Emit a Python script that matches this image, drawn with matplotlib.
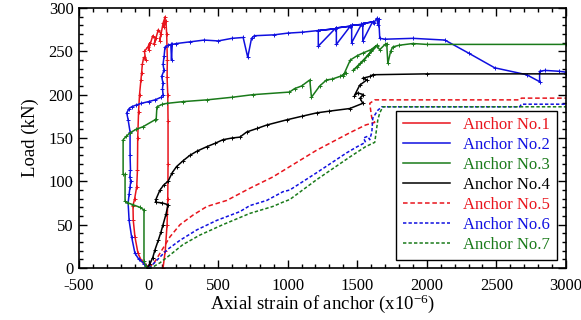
import numpy as np
import matplotlib
matplotlib.use('Agg')
import matplotlib.pyplot as plt
from matplotlib.ticker import MultipleLocator

plt.rcParams['font.family'] = ['Liberation Serif', 'DejaVu Serif']
plt.rcParams['mathtext.default'] = 'regular'
plt.rcParams['axes.unicode_minus'] = False

# Anchor No.1 (red, solid)
a1_x = [0, -20, -50, -76, -98, -110, -112, -100, -85, -80, -78, -72, -65, -55, -50,
        -45, -35, -20, -30, -5, 10, 0, 30, 50, 40, 70, 90, 80, 105, 120, 110, 125,
        130, 135, 133, 138, 140, 140, 138, 133, 120, 104]
a1_y = [0, 3, 8, 17, 36, 55, 72, 80, 94, 113, 150, 180, 200, 217, 225,
        235, 243, 240, 250, 255, 260, 252, 268, 265, 258, 275, 270, 262, 283, 290, 278, 285,
        270, 240, 220, 200, 170, 120, 80, 50, 20, 0]

# Anchor No.2 (blue, solid)
a2_x = [0, -30, -70, -98, -122, -140, -147, -140, -133, -128, -135, -130, -133, -133,
        -147, -157, -140, -122, -90, -52, 0, 46, 90, 104, 100, 104, 94, 111, 104, 112,
        118, 140, 160, 165, 170, 200, 300, 400, 500, 600, 680, 713, 740, 760, 900, 1000,
        1100, 1220, 1340, 1220, 1220, 1340, 1350, 1450, 1350, 1350, 1450, 1460, 1530,
        1460, 1460, 1530, 1540, 1610, 1540, 1540, 1610, 1620, 1640, 1650, 1655, 1662,
        1700, 1900, 2130, 2300, 2488, 2718, 2811, 2811, 2850, 2950, 3000]
a2_y = [0, 5, 10, 17, 36, 55, 75, 85, 94, 100, 105, 113, 130, 157,
        171, 179, 184, 186, 188, 190, 192, 194, 197, 200, 207, 213, 221, 228, 235, 245,
        255, 257, 258, 240, 258, 259, 261, 263, 262, 265, 266, 243, 265, 268, 269, 271,
        272, 274, 276, 256, 274, 276, 277, 279, 258, 277, 279, 280, 281,
        260, 280, 281, 282, 284, 262, 282, 284, 283, 288, 280, 287, 265,
        264, 265, 263, 248, 231, 223, 215, 227, 228, 227, 226]

# Anchor No.3 (green, solid)
a3_x = [0, -20, -33, -33, -62, -112, -147, -169, -169, -183, -183, -160, -133, -90,
        -40, 46, 55, 60, 100, 133, 250, 419, 600, 750, 1013, 1050, 1100, 1159, 1171,
        1230, 1279, 1320, 1375, 1420, 1400, 1450, 1500, 1540, 1600, 1640, 1600, 1550,
        1500, 1470, 1520, 1580, 1640, 1662, 1700, 1712, 1720, 1740, 1755, 1800, 1899,
        2000, 3000]
a3_y = [0, 2, 8, 67, 70, 73, 75, 77, 108, 108, 148, 152, 156, 160,
        163, 171, 172, 186, 189, 190, 192, 194, 197, 200, 203, 207, 210, 217, 197,
        210, 217, 218, 221, 225, 222, 240, 245, 248, 252, 257, 250, 240,
        232, 228, 236, 246, 256, 252, 258, 259, 236, 250, 255, 257, 259,
        258, 258]

# Anchor No.4 (black, solid)
a4_x = [-7, 10, 30, 46, 70, 90, 104, 125, 140, 100, 50, 55, 82, 110, 140, 170, 201,
        250, 297, 350, 419, 480, 534, 600, 656, 706, 780, 850, 994, 1100, 1209, 1300,
        1446, 1540, 1520, 1545, 1504, 1480, 1518, 1569, 1540, 1590, 1612, 2000, 3000]
a4_y = [0, 5, 12, 21, 32, 42, 50, 62, 73, 75, 76, 80, 90, 96, 100, 110, 117,
        124, 130, 135, 140, 144, 148, 150, 151, 157, 161, 165, 171, 175, 179, 181,
        184, 190, 196, 200, 202, 199, 211, 217, 219, 221, 223, 224, 224]

# Anchor No.5 (red, dashed)
a5_x = [0, 40, 82, 120, 154, 226, 319, 419, 563, 728, 893, 1015, 1209, 1446, 1560,
        1626, 1605, 1600, 1590, 1626, 2000, 2668, 2680, 3000]
a5_y = [0, 6, 17, 27, 36, 50, 61, 71, 78, 92, 105, 117, 136, 156, 165,
        168, 173, 178, 190, 194, 194, 194, 196, 196]

# Anchor No.6 (blue, dashed)
a6_x = [0, 30, 60, 133, 226, 347, 491, 656, 728, 850, 966, 1015, 1209, 1425, 1500,
        1560, 1545, 1575, 1590, 1605, 1612, 1648, 1676, 2668, 2680, 3000]
a6_y = [0, 4, 9, 21, 32, 44, 55, 65, 72, 78, 88, 90, 110, 133, 140,
        145, 150, 152, 148, 157, 173, 182, 186, 186, 189, 189]

# Anchor No.7 (green, dashed)
a7_x = [0, 40, 82, 154, 247, 369, 534, 728, 893, 966, 1015, 1209, 1446, 1560, 1626,
        1648, 1662, 1684, 3000]
a7_y = [0, 2, 6, 15, 27, 38, 50, 63, 71, 76, 79, 102, 128, 140, 145,
        171, 179, 186, 186]

red = '#e8141c'
blue = '#1010e0'
green = '#1a7a1a'
black = '#000000'

fig = plt.figure(figsize=(5.81, 3.2), dpi=100)
ax = fig.add_axes([0.136, 0.1625, 0.838, 0.8125])

mk = dict(marker='+', markersize=3, markeredgewidth=0.7)
ax.plot(a1_x, a1_y, color=red, lw=1.1, label='Anchor No.1', **mk)
ax.plot(a2_x, a2_y, color=blue, lw=1.1, label='Anchor No.2', **mk)
ax.plot(a3_x, a3_y, color=green, lw=1.1, label='Anchor No.3', **mk)
ax.plot(a4_x, a4_y, color=black, lw=1.1, label='Anchor No.4', **mk)
ax.plot(a5_x, a5_y, color=red, lw=1.1, ls=(0, (3, 1.8)), label='Anchor No.5')
ax.plot(a6_x, a6_y, color=blue, lw=1.1, ls=(0, (2.2, 1.4)), label='Anchor No.6')
ax.plot(a7_x, a7_y, color=green, lw=1.1, ls=(0, (2.2, 1.4)), label='Anchor No.7')

ax.set_xlim(-500, 3000)
ax.set_ylim(0, 300)
ax.xaxis.set_major_locator(MultipleLocator(500))
ax.xaxis.set_minor_locator(MultipleLocator(100))
ax.yaxis.set_major_locator(MultipleLocator(50))
ax.yaxis.set_minor_locator(MultipleLocator(10))
ax.tick_params(which='both', direction='in', top=True, right=True, labelsize=12, width=1)
ax.tick_params(which='major', length=6)
ax.tick_params(which='minor', length=3)
ax.tick_params(axis='x', which='major', pad=7)
ax.tick_params(axis='y', which='major', pad=4)
for s in ax.spines.values():
    s.set_linewidth(1.2)

ax.set_xlabel('Axial strain of anchor (x10$^{-6}$)', fontsize=13.5, labelpad=-1)
ax.set_ylabel('Load (kN)', fontsize=13.5, labelpad=7)

leg = ax.legend(loc='lower right', bbox_to_anchor=(0.981, 0.031), borderaxespad=0,
                fontsize=12, fancybox=False, framealpha=1, edgecolor='black',
                handlelength=2.8, labelspacing=0.24, markerscale=0)
leg.get_frame().set_linewidth(1.0)
for line, text in zip(leg.get_lines(), leg.get_texts()):
    line.set_marker('')
    text.set_color(line.get_color())

fig.savefig('out.png', dpi=100)
